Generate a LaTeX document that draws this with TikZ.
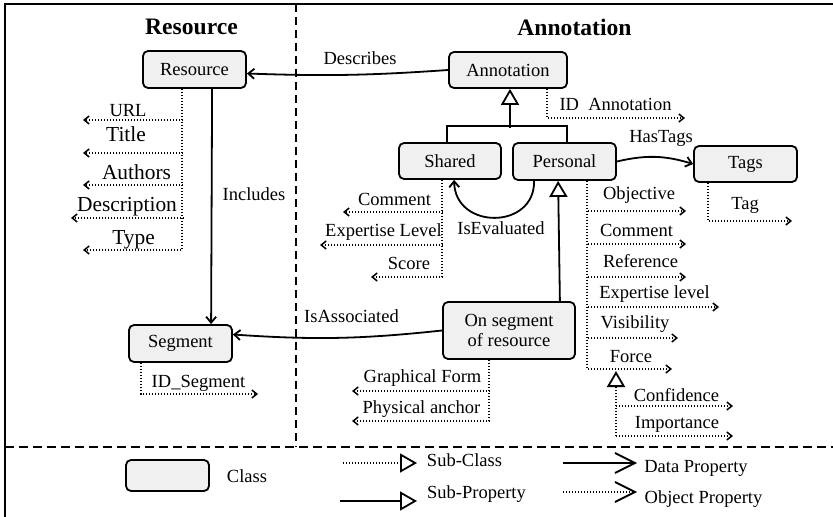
\documentclass[tikz,border=0pt]{standalone}
\usepackage{fontspec}
\setmainfont{Liberation Serif}
\usetikzlibrary{arrows.meta,calc}
\definecolor{boxgray}{HTML}{F0F0F0}
\begin{document}
\begin{tikzpicture}[x=1bp,y=-1bp,
  txt/.style={font=\fontsize{18.5bp}{20bp}\selectfont, inner sep=0pt, anchor=base},
  big/.style={font=\fontsize{21.4bp}{23bp}\selectfont, inner sep=0pt, anchor=base},
  ttl/.style={font=\fontsize{23.6bp}{25bp}\selectfont\bfseries, inner sep=0pt, anchor=base},
  cls/.style={draw, line width=1.8bp, rounded corners=5bp, fill=boxgray, font=\fontsize{18.5bp}{20bp}\selectfont, inner sep=0pt},
  dot/.style={line width=1.3bp, dash pattern=on 1.2bp off 1.8bp},
  dtip/.style={-{Straight Barb[length=5bp,width=8bp,line width=1.5bp]}},
  stip/.style={-{Straight Barb[length=6bp,width=10bp]}},
  sol/.style={line width=1.8bp},
  tri/.style={-{Triangle[open,length=16bp,width=18bp,line width=1.8bp]}},
  ltri/.style={-{Triangle[open,length=17bp,width=19bp,line width=1.8bp]}},
  lbarb/.style={-{Straight Barb[length=20bp,width=20bp,line width=1.8bp]}},
]
\useasboundingbox (0,0) rectangle (833,517);

% frame and separators
\draw[line width=2bp] (5,517) -- (5,4) -- (833,4);
\draw[line width=1.8bp, dash pattern=on 8bp off 5bp] (296,4) -- (296,447);
\draw[line width=2bp, dash pattern=on 9bp off 5bp] (5,447) -- (833,447);

% titles
\node[ttl] (tRes) at (191.5,35) {Resource};
\node[ttl] (tAnn) at (574.5,36) {Annotation};

% classes
\node[cls, minimum width=103bp, minimum height=37bp] (res) at (194.5,69.5) {Resource};
\node[cls, minimum width=118bp, minimum height=36bp] (ann) at (508,70) {Annotation};
\node[cls, minimum width=102bp, minimum height=36bp] (sha) at (450,161) {Shared};
\node[cls, minimum width=103bp, minimum height=37bp] (per) at (564.5,161.5) {Personal};
\node[cls, minimum width=103bp, minimum height=36bp] (tag) at (745.5,164) {Tags};
\node[cls, minimum width=132bp, minimum height=57bp, align=center] (ons) at (509,330.5) {On segment\\of resource};
\node[cls, minimum width=103bp, minimum height=37bp] (seg) at (180.5,343.5) {Segment};

% Resource properties
\draw[dot,dtip] ($(res.south west)+(40,0)$) |- (83,250);
\draw[dot,dtip] (183,120) -- (83,120);
\draw[dot,dtip] (183,153) -- (83,153);
\draw[dot,dtip] (183,185) -- (83,185);
\draw[dot,dtip] (184,218) -- (71,218);
\node[txt] (lurl) at (128,117) {URL};
\node[big] (ltitle) at (126,142) {Title};
\node[big] (lauth) at (136.5,180) {Authors};
\node[big] (ldesc) at (127,212) {Description};
\node[big] (ltype) at (133.5,245) {Type};

% Includes
\draw[sol,stip] ($(res.south west)+(70,0)$) -- ($(seg.north west)+(83,0)$);
\node[txt] (linc) at (254,201) {Includes};

% Segment id
\draw[dot,dtip] ($(seg.south west)+(13,0)$) |- (258,394);
\node[txt] (lidseg) at (198.5,387) {ID\_Segment};

% Describes
\draw[sol,stip] (ann.west) to[bend left=3] ($(res.east)+(0,4)$);
\node[txt] (ldesc2) at (360,65) {Describes};

% Annotation hierarchy
\draw[sol] ($(sha.north west)+(49,0)$) |- ($(per.north west)+(55,-16)$) -- ($(per.north west)+(55,0)$);
\draw[sol,tri] ($(ann.south)+(2,39)$) -- ($(ann.south)+(2,0)$);

% ID Annotation
\draw[dot,dtip] ($(ann.south west)+(99,0)$) |- (685,118);
\node[txt] (lidann) at (615.5,111) {ID\ \ Annotation};

% HasTags
\draw[sol,stip] (per.east) to[bend left=15] (tag.west);
\node[txt] (lhas) at (661,143) {HasTags};

% Tag
\draw[dot,dtip] ($(tag.south west)+(15,0)$) |- (792,221);
\node[txt] (ltag) at (745,210) {Tag};

% Personal properties
\draw[dot,dtip] ($(per.south west)+(75,0)$) |- (672,369);
\draw[dot,dtip] (588,211) -- (686,211);
\draw[dot,dtip] (588,244) -- (686,244);
\draw[dot,dtip] (588,277) -- (686,277);
\draw[dot,dtip] (588,307) -- (719,307);
\draw[dot,dtip] (588,338) -- (678,338);
\node[txt] (lobj) at (639,200) {Objective};
\node[txt] (lcom2) at (636.5,237) {Comment};
\node[txt] (lref) at (640.5,268) {Reference};
\node[txt] (lexp2) at (654.5,299) {Expertise level};
\node[txt] (lvis) at (635,329) {Visibility};
\node[txt] (lfor) at (631,362) {Force};

% Force sub-properties
\draw[dot,tri] (616,436) -- (616,371);
\draw[dot,dtip] (616,406) -- (733,406);
\draw[dot,dtip] (616,436) -- (733,436);
\node[txt] (lconf) at (676.5,401) {Confidence};
\node[txt] (limp) at (677,428) {Importance};

% Personal -> On segment
\draw[sol,tri] ($(ons.north east)+(-16,0)$) -- ($(per.south west)+(46,0)$);

% Shared properties
\draw[dot,dtip] ($(sha.south west)+(44,0)$) |- (371,277);
\draw[dot,dtip] (443,212) -- (343,212);
\draw[dot,dtip] (443,245) -- (320,245);
\node[txt] (lcom1) at (394.5,206) {Comment};
\node[txt] (lexp1) at (383.5,237) {Expertise Level};
\node[txt] (lsco) at (409,270) {Score};

% IsEvaluated
\draw[sol,stip] ($(per.south west)+(22,0)$) .. controls (535,230) and (455,230) .. ($(sha.south west)+(56,0)$);
\node[txt] (leval) at (501,235) {IsEvaluated};

% IsAssociated
\draw[sol,stip] (ons.west) to[bend left=5] ($(seg.east)+(0,-9)$);
\node[txt] (lasso) at (351.5,323) {IsAssociated};

% On segment properties
\draw[dot,dtip] ($(ons.south west)+(47,0)$) |- (352,421);
\draw[dot,dtip] (490,391) -- (352,391);
\node[txt] (lgraf) at (422.5,382) {Graphical Form};
\node[txt] (lphys) at (421.5,413) {Physical anchor};

% Legend
\node[cls, minimum width=83bp, minimum height=31bp] (lcls) at (167.5,475.5) {};
\node[txt] (lclass) at (247,482) {Class};
\coordinate (sc1) at (343,463); \coordinate (sc2) at (417,463);
\coordinate (sp1) at (340,501); \coordinate (sp2) at (417,501);
\coordinate (dp1) at (563,463); \coordinate (dp2) at (637,463);
\coordinate (op1) at (563,492); \coordinate (op2) at (637,492);
\draw[dot,ltri] (sc1) -- (sc2);
\draw[sol,ltri] (sp1) -- (sp2);
\draw[sol,lbarb] (dp1) -- (dp2);
\draw[dot,lbarb] (op1) -- (op2);
\node[txt] (lsubc) at (464.5,466) {Sub-Class};
\node[txt] (lsubp) at (476.5,498) {Sub-Property};
\node[txt] (ldata) at (696,472) {Data Property};
\node[txt] (lobjp) at (703.5,503) {Object Property};
\end{tikzpicture}
\end{document}
